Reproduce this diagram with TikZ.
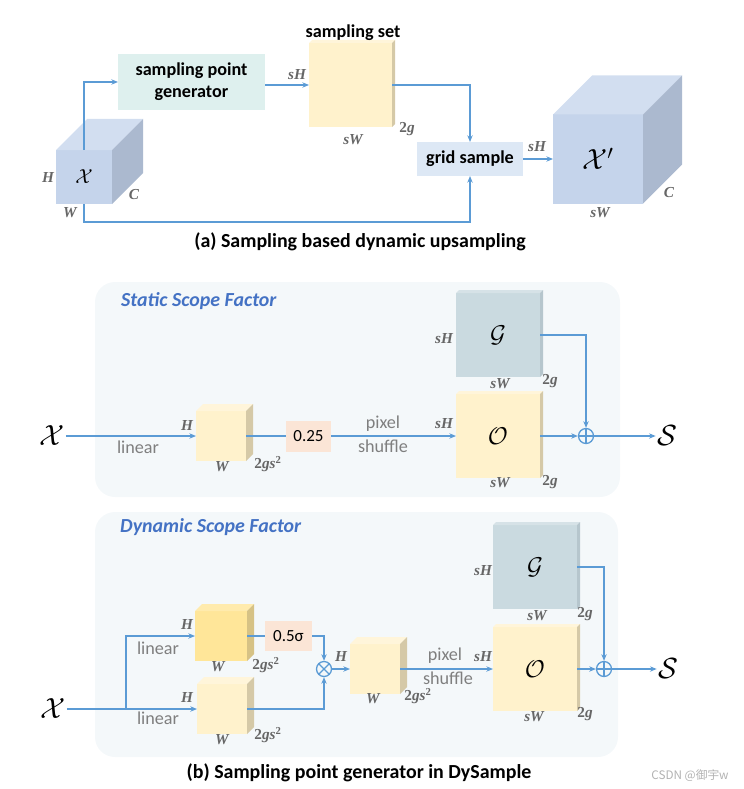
\documentclass[tikz,border=0pt]{standalone}
\usepackage{amsmath}
\usepackage{fontspec}
\setmainfont{Carlito}
\newfontfamily\cjkfont{Noto Sans CJK SC}
\newfontfamily\dimfont{Liberation Serif}
\usetikzlibrary{arrows.meta}

\definecolor{lineblue}{HTML}{5B9BD5}
\definecolor{cubeblue}{HTML}{C5D4EB}
\definecolor{cubebluetop}{HTML}{D2DEF0}
\definecolor{cubeblueside}{HTML}{ABB9CF}
\definecolor{spgfill}{HTML}{DEF0EE}
\definecolor{gridfill}{HTML}{DDE8F5}
\definecolor{featfront}{HTML}{FFF2CC}
\definecolor{feattop}{HTML}{FFF5DA}
\definecolor{featside}{HTML}{D5C9A7}
\definecolor{deepfront}{HTML}{FFE699}
\definecolor{deeptop}{HTML}{FFEBAD}
\definecolor{deepside}{HTML}{D6C285}
\definecolor{scalefill}{HTML}{FBE5D6}
\definecolor{gfront}{HTML}{CADAE0}
\definecolor{gtop}{HTML}{D6E2E7}
\definecolor{gside}{HTML}{B6C6CD}
\definecolor{panelfill}{HTML}{F4F8FA}
\definecolor{titleblue}{HTML}{4472C4}
\definecolor{dimgray}{HTML}{666666}
\definecolor{opgray}{HTML}{7F7F7F}

\newcommand{\px}{0.03cm}
\newcommand{\chan}{{\upshape 2}gs\textsuperscript{\upshape 2}}
% cube: name, centre of front face, width, height, depth, front/top/side colour, text
\newcommand{\featcube}[9]{%
  \node[cubeface, fill=#6, minimum width=#3*\px, minimum height=#4*\px] (#1) at #2 {#9};
  \fill[#7] (#1.north west) -- ++(#5,-#5) -- ([shift={(#5,-#5)}]#1.north east) -- (#1.north east) -- cycle;
  \fill[#8] (#1.north east) -- ++(#5,-#5) -- ([shift={(#5,-#5)}]#1.south east) -- (#1.south east) -- cycle;
}

\begin{document}
\begin{tikzpicture}[
    x=0.03cm, y=-0.03cm,
    cubeface/.style={rectangle, inner sep=0pt, outer sep=0pt, font=\fontsize{17}{17}\selectfont},
    flatbox/.style={rectangle, inner sep=0pt, outer sep=0pt, align=center,
                    font=\fontsize{15.5}{18.5}\selectfont\bfseries},
    scalebox/.style={rectangle, fill=scalefill, inner sep=0pt, outer sep=0pt, font=\fontsize{14.5}{16}\selectfont},
    dimlab/.style={inner sep=0pt, text=dimgray, font=\dimfont\bfseries\itshape\fontsize{13}{14}\selectfont},
    oplab/.style={inner sep=0pt, text=opgray, font=\fontsize{15.5}{17}\selectfont},
    tensor/.style={inner sep=1pt, font=\fontsize{23}{23}\selectfont},
    caption/.style={inner sep=0pt, font=\fontsize{17}{19}\selectfont\bfseries},
    paneltitle/.style={anchor=west, inner sep=0pt, text=titleblue, font=\fontsize{17}{19}\selectfont\bfseries\itshape},
    panel/.style={fill=panelfill, rounded corners=0.6cm},
    arr/.style={-{Stealth[length=2mm, width=1.6mm]}, line width=1.2pt, lineblue},
    link/.style={line width=1.2pt, lineblue},
    opplus/.style={circle, draw=lineblue, line width=1.1pt, minimum size=15*\px, inner sep=0pt,
                   path picture={\draw[lineblue, line width=1.1pt]
                     (path picture bounding box.north) -- (path picture bounding box.south)
                     (path picture bounding box.west) -- (path picture bounding box.east);}},
    optimes/.style={circle, draw=lineblue, line width=1.1pt, minimum size=15*\px, inner sep=0pt,
                   path picture={\draw[lineblue, line width=1.1pt]
                     (path picture bounding box.north west) -- (path picture bounding box.south east)
                     (path picture bounding box.south west) -- (path picture bounding box.north east);}},
]
\useasboundingbox (0,0) rectangle (743,789);

% ── (a) Sampling based dynamic upsampling ──
\featcube{xin}{(84,177)}{56}{54}{31}{cubeblue}{cubebluetop}{cubeblueside}{$\mathcal{X}$}
\node[flatbox, fill=spgfill, minimum width=147*\px, minimum height=56*\px] (spg) at (191.5,82) {sampling point\\generator};
\featcube{sset}{(350.5,85)}{83}{84}{3}{featfront}{feattop}{featside}{}
\node[flatbox] (ssettitle) at (353,33) {sampling set};
\node[flatbox, fill=gridfill, minimum width=106*\px, minimum height=34*\px] (grid) at (470,159) {grid sample};
\featcube{xout}{(598,159)}{90}{89}{39}{cubeblue}{cubebluetop}{cubeblueside}{\fontsize{23}{23}\selectfont$\mathcal{X}'$}

\node[dimlab] (xinH) at (48,178) {H};
\node[dimlab] (xinW) at (70,213) {W};
\node[dimlab] (xinC) at (134,195) {C};
\node[dimlab] (ssetH) at (297,75) {sH};
\node[dimlab] (ssetW) at (353,140) {sW};
\node[dimlab] (ssetG) at (407,129) {{\upshape 2}g};
\node[dimlab] (xoutH) at (537,147) {sH};
\node[dimlab] (xoutW) at (600,213) {sW};
\node[dimlab] (xoutC) at (669,193) {C};

\coordinate (lowturn) at (84,222);
\draw[arr] (xin.north) |- (spg.west);
\draw[arr] (spg.east |- sset.west) -- (sset.west);
\draw[arr] (sset.east) -| (grid.north);
\draw[arr] (xin.south) -- (lowturn) -| (grid.south);
\draw[arr] (grid.east) -- (xout.west);

\node[caption] (capa) at (360,242) {(a) Sampling based dynamic upsampling};

% ── (b) Static scope factor ──
\fill[panel] (95,282) rectangle (620,497);
\node[paneltitle] (stitle) at (121,301) {Static Scope Factor};

\node[tensor] (xs) at (52,436) {$\mathcal{X}$};
\featcube{scube}{(221,436)}{50}{50}{7}{featfront}{feattop}{featside}{}
\node[scalebox, minimum width=45*\px, minimum height=31*\px] (s025) at (308.5,436) {0.25};
\featcube{sg}{(498,335)}{84}{84}{3}{gfront}{gtop}{gside}{\fontsize{21}{21}\selectfont$\mathcal{G}$}
\featcube{so}{(498,436)}{84}{84}{3}{featfront}{feattop}{featside}{\fontsize{21}{21}\selectfont$\mathcal{O}$}
\node[opplus] (splus) at (586,436) {};
\node[tensor] (ss) at (667,436) {$\mathcal{S}$};

\node[oplab] (slinear) at (138,447) {linear};
\node[oplab] (spixel) at (383,424) {pixel};
\node[oplab] (sshuffle) at (383,446) {shuffle};
\node[dimlab] (scubeH) at (187,426) {H};
\node[dimlab] (scubeW) at (222,467) {W};
\node[dimlab] (scubeC) at (268,464) {\chan};
\node[dimlab] (sgH) at (444,339) {sH};
\node[dimlab] (sgW) at (500,384) {sW};
\node[dimlab] (sgC) at (550,381) {{\upshape 2}g};
\node[dimlab] (soH) at (444,424) {sH};
\node[dimlab] (soW) at (500,483) {sW};
\node[dimlab] (soC) at (550,482) {{\upshape 2}g};

\draw[arr] (xs.east) -- (scube.west);
\draw[link] (scube.east) -- (s025.west);
\draw[arr] (s025.east) -- (so.west);
\draw[arr] (so.east) -- (splus.west);
\draw[arr] (sg.east) -| (splus.north);
\draw[arr] (splus.east) -- (ss.west);

% ── (b) Dynamic scope factor ──
\fill[panel] (95,512) rectangle (618,757);
\node[paneltitle] (dtitle) at (120,527) {Dynamic Scope Factor};

\node[tensor] (dx) at (53,709) {$\mathcal{X}$};
\featcube{dlin1}{(221,636)}{52}{50}{7}{deepfront}{deeptop}{deepside}{}
\featcube{dlin2}{(222,709)}{50}{50}{7}{featfront}{feattop}{featside}{}
\node[scalebox, minimum width=47*\px, minimum height=30*\px] (d05) at (288.5,636) {0.5σ};
\node[optimes] (dtimes) at (324,669) {};
\featcube{dmul}{(375,669)}{50}{50}{7}{featfront}{feattop}{featside}{}
\featcube{dg}{(535,567)}{84}{84}{3}{gfront}{gtop}{gside}{\fontsize{21}{21}\selectfont$\mathcal{G}$}
\featcube{do}{(535,669)}{84}{84}{3}{featfront}{feattop}{featside}{\fontsize{21}{21}\selectfont$\mathcal{O}$}
\node[opplus] (dplus) at (604,669) {};
\node[tensor] (ds) at (668,669) {$\mathcal{S}$};

\node[oplab] (dlinear1) at (158,648) {linear};
\node[oplab] (dlinear2) at (158,718) {linear};
\node[oplab] (dpixel) at (445,656) {pixel};
\node[oplab] (dshuffle) at (448,678) {shuffle};
\node[dimlab] (dlin1H) at (187,625) {H};
\node[dimlab] (dlin1W) at (218,667) {W};
\node[dimlab] (dlin1C) at (266,665) {\chan};
\node[dimlab] (dlin2H) at (187,698) {H};
\node[dimlab] (dlin2W) at (222,740) {W};
\node[dimlab] (dlin2C) at (268,735) {\chan};
\node[dimlab] (dmulH) at (341,657) {H};
\node[dimlab] (dmulW) at (373,699) {W};
\node[dimlab] (dmulC) at (418,696) {\chan};
\node[dimlab] (dgH) at (483,571) {sH};
\node[dimlab] (dgW) at (537,616) {sW};
\node[dimlab] (dgC) at (585,614) {{\upshape 2}g};
\node[dimlab] (doH) at (483,657) {sH};
\node[dimlab] (doW) at (534,717) {sW};
\node[dimlab] (doC) at (585,714) {{\upshape 2}g};

\coordinate (dsplit) at (126,709);
\draw[link] (dx.east) -- (dsplit);
\draw[arr] (dsplit) |- (dlin1.west);
\draw[arr] (dsplit) -- (dlin2.west);
\draw[link] (dlin1.east) -- (d05.west);
\draw[arr] (d05.east) -| (dtimes.north);
\draw[arr] (dlin2.east) -| (dtimes.south);
\draw[arr] (dtimes.east) -- (dmul.west);
\draw[arr] (dmul.east) -- (do.west);
\draw[arr] (do.east) -- (dplus.west);
\draw[arr] (dg.east) -| (dplus.north);
\draw[arr] (dplus.east) -- (ds.west);

\node[caption] (capb) at (359,773) {(b) Sampling point generator in DySample};
\node[inner sep=0pt, text=black!30, font=\cjkfont\fontsize{10}{12}\selectfont] (mark) at (690,776) {CSDN @御宇w};

\end{tikzpicture}
\end{document}
